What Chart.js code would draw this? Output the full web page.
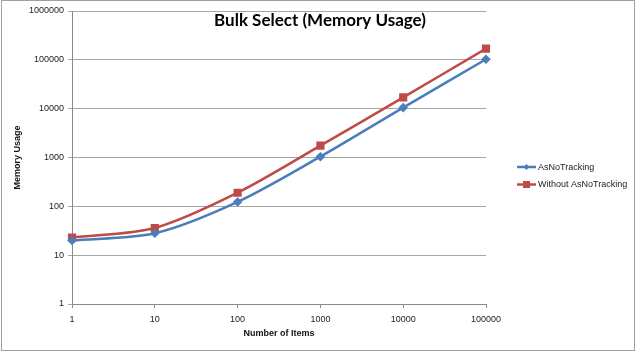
<!DOCTYPE html>
<html><head><meta charset="utf-8">
<script src="https://cdn.jsdelivr.net/npm/chart.js@4/dist/chart.umd.min.js"></script>
<style>html,body{margin:0;padding:0;background:#fff}#wrap{width:640px;height:352px}</style>
</head><body><div id="wrap"><canvas id="c" width="640" height="352"></canvas></div>
<script>
const categories = ['1','10','100','1000','10000','100000'];
const asNoTracking = [20, 28, 123, 1040, 10500, 103000];
const withoutAsNoTracking = [23, 36, 190, 1750, 17000, 170000];
const yTickValues = [1, 10, 100, 1000, 10000, 100000, 1000000];
const chartTitle = 'Bulk Select (Memory Usage)';
const xTitle = 'Number of Items';
const yTitle = 'Memory Usage';

const BLUE = '#4A7EBB', RED = '#BE4B48';
const GRID = '#A6A6A6', AXIS = '#888888';
const TICKFONT = {family: '"Liberation Sans", Arial, sans-serif', size: 9};

const framePlugin = {
  id: 'frame',
  beforeDraw(chart) {
    const ctx = chart.ctx;
    ctx.save();
    ctx.fillStyle = '#fff';
    ctx.fillRect(0, 0, chart.width, chart.height);
    ctx.strokeStyle = '#A0A0A0';
    ctx.lineWidth = 1;
    ctx.strokeRect(1.5, 0.5, 633, 350);
    ctx.restore();
  },
  afterDraw(chart) {
    const ctx = chart.ctx;
    ctx.save();
    ctx.fillStyle = '#000';
    ctx.font = 'bold 17px Lato, "Liberation Sans", sans-serif';
    ctx.textAlign = 'center';
    ctx.textBaseline = 'middle';
    ctx.fillText(chartTitle, 320, 21);
    const items = chart.data.datasets;
    ctx.font = '9px "Liberation Sans", Arial, sans-serif';
    ctx.textAlign = 'left';
    items.forEach((ds, i) => {
      const y = 167 + i * 17.5;
      ctx.strokeStyle = ds.borderColor;
      ctx.lineWidth = 2.5;
      ctx.beginPath(); ctx.moveTo(517, y); ctx.lineTo(536, y); ctx.stroke();
      ctx.fillStyle = ds.borderColor;
      if (ds.pointStyle === 'rect') {
        ctx.fillRect(523, y - 3.5, 7, 7);
      } else {
        ctx.beginPath();
        ctx.moveTo(526.5, y - 3); ctx.lineTo(529.5, y); ctx.lineTo(526.5, y + 3); ctx.lineTo(523.5, y);
        ctx.closePath(); ctx.fill();
      }
      ctx.fillStyle = '#222';
      ctx.fillText(ds.label, 538, y + 0.5);
    });
    ctx.restore();
  }
};

new Chart(document.getElementById('c'), {
  type: 'line',
  data: {
    labels: categories,
    datasets: [
      {label: 'AsNoTracking', data: asNoTracking, borderColor: BLUE, backgroundColor: BLUE,
       borderWidth: 2.5, pointStyle: 'rectRot', pointRadius: 3, pointHoverRadius: 3, tension: 0.3, clip: false},
      {label: 'Without AsNoTracking', data: withoutAsNoTracking, borderColor: RED, backgroundColor: RED,
       borderWidth: 2.5, pointStyle: 'rect', pointRadius: 4, pointHoverRadius: 4, tension: 0.3, clip: false}
    ]
  },
  options: {
    responsive: false,
    animation: false,
    events: [],
    layout: {padding: {left: 0, right: 154, top: 11, bottom: 13}},
    plugins: {legend: {display: false}, tooltip: {enabled: false}, title: {display: false}},
    scales: {
      x: {
        type: 'category',
        offset: false,
        grid: {display: true, drawOnChartArea: false, drawTicks: true, tickLength: 4, color: AXIS},
        border: {display: true, color: AXIS, width: 1},
        ticks: {font: TICKFONT, color: '#222', padding: 6, maxRotation: 0, autoSkip: false},
        title: {display: true, text: xTitle, color: '#111', font: {family: '"Liberation Sans", Arial, sans-serif', size: 9, weight: 'bold'}, padding: {top: 4, bottom: 0}},
        afterFit(s) { s.height = 35; }
      },
      y: {
        type: 'logarithmic',
        min: 1, max: 1000000,
        afterBuildTicks(s) { s.ticks = yTickValues.map(v => ({value: v, major: true})); },
        grid: {display: true, drawOnChartArea: true, drawTicks: true, tickLength: 4, color: GRID},
        border: {display: true, color: AXIS, width: 1},
        ticks: {font: TICKFONT, color: '#222', padding: 4, callback: v => String(v)},
        title: {display: true, text: yTitle, color: '#111', font: {family: '"Liberation Sans", Arial, sans-serif', size: 9, weight: 'bold'}, padding: {top: 12, bottom: 0}},
        afterFit(s) { s.width = 72; }
      }
    }
  },
  plugins: [framePlugin]
});
</script>
</body></html>
